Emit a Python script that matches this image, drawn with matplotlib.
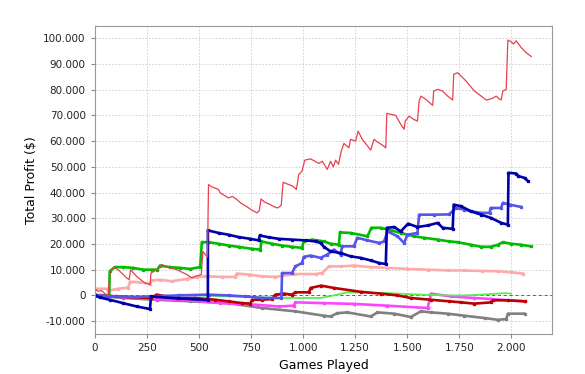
import matplotlib
matplotlib.use('Agg')
import matplotlib.pyplot as plt
from matplotlib.ticker import FuncFormatter, MultipleLocator

# games played (x) / total profit in $ (y)
red_x = [0, 16, 32, 48, 64, 72, 88, 96, 120, 153, 165, 172, 201, 241, 265, 270, 297, 313, 321, 361,
         394, 442, 466, 482, 500, 511, 519, 530, 541, 546, 560, 594, 602, 642, 660, 682, 700, 730, 755,
         779, 790, 798, 815, 843, 860, 878, 895, 904, 931, 950, 968, 979, 995, 1008, 1036, 1076, 1092,
         1116, 1132, 1145, 1156, 1170, 1183, 1196, 1220, 1228, 1252, 1264, 1284, 1325, 1340, 1360, 1380,
         1397, 1402, 1445, 1469, 1485, 1490, 1509, 1530, 1549, 1557, 1566, 1590, 1622, 1627, 1646, 1670,
         1694, 1718, 1723, 1742, 1782, 1822, 1855, 1879, 1905, 1927, 1940, 1951, 1959, 1975, 1983, 1999,
         2010, 2023, 2047, 2071, 2095]
red_y = [2600, 1600, 1900, 700, 0, 8700, 10700, 11000, 9400, 6800, 6100, 10000, 7400, 4800, 4200, 8700,
         10000, 11300, 12000, 10700, 10000, 8100, 6800, 7400, 7800, 8100, 17100, 15900, 15000, 43100,
         42300, 41200, 39900, 37900, 38500, 37300, 36000, 34500, 33100, 32100, 33000, 37500, 36300, 35300,
         34500, 34000, 35000, 44000, 43100, 42500, 41200, 47000, 48300, 52600, 53100, 51300, 52200, 49000,
         52200, 50000, 52600, 51000, 56100, 59100, 57400, 60700, 60000, 63900, 60700, 56500, 60700, 59500,
         58500, 57400, 70800, 70000, 66500, 64600, 67800, 69700, 68500, 67800, 75600, 77500, 76200, 73900,
         79500, 80100, 79500, 77500, 76000, 86000, 86600, 83400, 79500, 77500, 76000, 76500, 77500, 76500,
         76000, 79500, 80100, 99300, 98600, 97800, 99000, 96400, 94400, 92900]

navy_x = [0, 24, 72, 136, 201, 265, 270, 400, 543, 543, 594, 642, 690, 747, 787, 792, 835, 883, 947, 1012,
          1060, 1084, 1100, 1132, 1180, 1228, 1276, 1325, 1365, 1397, 1402, 1437, 1469, 1504, 1549, 1598,
          1646, 1670, 1718, 1723, 1758, 1806, 1855, 1903, 1951, 1983, 1986, 2023, 2034, 2063, 2080]
navy_y = [0, -800, -1700, -3000, -4300, -5300, -400, -1200, -1800, 25300, 24300, 23600, 22700, 22000,
          21400, 23300, 22600, 22000, 21700, 21400, 21000, 20400, 18900, 17100, 16500, 15200, 14600, 13600,
          12600, 12200, 26300, 26600, 24900, 27900, 26600, 27200, 28200, 26300, 25900, 35300, 34700, 32700,
          31400, 30100, 28200, 27500, 47700, 47400, 46400, 45700, 44400]

blue_x = [0, 100, 200, 300, 400, 546, 642, 722, 803, 896, 899, 947, 963, 995, 1003, 1036, 1084, 1116,
          1148, 1180, 1188, 1244, 1260, 1309, 1365, 1389, 1405, 1453, 1485, 1501, 1549, 1557, 1630, 1700,
          1734, 1774, 1806, 1855, 1895, 1900, 1950, 1959, 1991, 2047]
blue_y = [0, -400, -600, -300, 0, 300, 0, -400, -1000, -1000, 8700, 8700, 11300, 12600, 15000, 15500,
          14600, 15900, 17800, 15900, 19100, 19100, 22400, 21400, 20400, 21000, 24900, 23000, 20400, 23600,
          24300, 31400, 31400, 31500, 34000, 33400, 32700, 32100, 32100, 34000, 34000, 36000, 35300, 34400]

green_x = [0, 40, 69, 72, 96, 136, 185, 233, 273, 300, 313, 361, 409, 458, 506, 514, 546, 594, 642, 690,
           755, 795, 800, 851, 899, 947, 995, 1003, 1044, 1100, 1132, 1172, 1177, 1228, 1309, 1328, 1373,
           1421, 1469, 1533, 1581, 1646, 1702, 1742, 1806, 1855, 1900, 1935, 1959, 1999, 2047, 2092]
green_y = [0, -300, 0, 9400, 11000, 11000, 10700, 10000, 10000, 10000, 11600, 11000, 10700, 10300, 11000,
           20700, 20700, 20100, 19400, 18900, 18100, 17800, 21000, 20100, 19400, 18900, 18500, 21000, 21700,
           21000, 20100, 19700, 24500, 24300, 23000, 26300, 26300, 25300, 24300, 23000, 22400, 21700, 21000,
           20700, 19700, 18900, 18900, 19700, 20700, 20100, 19700, 19100]

pink_x = [0, 60, 70, 112, 160, 169, 217, 265, 273, 313, 369, 442, 490, 522, 546, 610, 674, 682, 739, 803,
          867, 963, 1060, 1092, 1124, 1180, 1244, 1325, 1405, 1501, 1598, 1694, 1774, 1860, 1935, 1999, 2055]
pink_y = [2600, 2600, 1900, 2600, 3000, 5300, 5100, 4600, 5800, 6100, 5500, 6400, 7200, 7400, 7400, 7200,
          7200, 8500, 8100, 7400, 7200, 8300, 8300, 8700, 11300, 11300, 11600, 11000, 10700, 10300, 10000,
          9700, 9700, 9500, 9400, 9000, 8500]

darkred_x = [0, 100, 200, 270, 297, 345, 409, 482, 578, 642, 706, 747, 755, 803, 851, 867, 907, 947, 963,
             1028, 1036, 1087, 1148, 1276, 1373, 1453, 1517, 1614, 1702, 1758, 1822, 1903, 1911, 1983, 2063]
darkred_y = [0, -400, -800, -1000, 300, -400, -1000, -1000, -1700, -2300, -3000, -3200, -1700, -1700,
             -1400, 300, 700, 300, 1200, 1200, 2900, 3800, 2900, 1400, 700, 0, -1000, -1700, -2300, -2700,
             -3200, -2700, -1900, -1900, -2300]

lime_x = [409, 500, 600, 730, 891, 1052, 1084, 1148, 1212, 1405, 1565, 1702, 1774, 1855, 1935, 1967, 1999]
lime_y = [300, 0, -300, -600, -1000, -1000, -1000, 0, 1200, 900, 300, 0, 0, 300, 700, 900, 700]

magenta_x = [0, 136, 297, 458, 602, 771, 883, 955, 963, 1100, 1244, 1405, 1598, 1614, 1710, 1822, 1903,
             1983, 2063]
magenta_y = [300, -600, -1400, -1900, -3000, -3600, -4300, -4000, -2700, -3000, -3300, -4000, -4900, 700,
             -400, -1000, -1400, -1900, -2300]

gray_x = [0, 136, 297, 458, 642, 803, 963, 1100, 1132, 1164, 1212, 1325, 1357, 1437, 1517, 1565, 1614,
          1694, 1774, 1871, 1935, 1975, 1983, 2063]
gray_y = [0, -1000, -1700, -2300, -3000, -4900, -6200, -7900, -8200, -6900, -6600, -8200, -6600, -7100,
          -8400, -6200, -6600, -7100, -7900, -8800, -9500, -9200, -7100, -7100]

fig, ax = plt.subplots(figsize=(5.85, 3.74), dpi=100)
fig.subplots_adjust(left=0.162, right=0.944, bottom=0.107, top=0.930)

ax.grid(True, color='#cccccc', linestyle=(0, (2, 2)), linewidth=0.6)
ax.set_axisbelow(True)
ax.axhline(0, color='#5555aa', linewidth=0.7, linestyle=(0, (3, 3)), zorder=1)

thick = dict(linewidth=1.9, marker='s', markersize=1.4)
ax.plot(gray_x, gray_y, color='#808080', **thick)
ax.plot(magenta_x, magenta_y, color='#ff44ff', **thick)
ax.plot(lime_x, lime_y, color='#55ee55', linewidth=1.3)
ax.plot(darkred_x, darkred_y, color='#bb0000', **thick)
ax.plot(pink_x, pink_y, color='#ffaaaa', **thick)
ax.plot(green_x, green_y, color='#00bb00', **thick)
ax.plot(blue_x, blue_y, color='#5555ee', **thick)
ax.plot(navy_x, navy_y, color='#0000aa', **thick)
ax.plot(red_x, red_y, color='#e8404c', linewidth=0.9)

ax.set_xlim(0, 2196)
ax.set_ylim(-15000, 104700)
ax.xaxis.set_major_locator(MultipleLocator(250))
ax.yaxis.set_major_locator(MultipleLocator(10000))
fmt = FuncFormatter(lambda v, p: f'{v:,.0f}'.replace(',', '.'))
ax.xaxis.set_major_formatter(fmt)
ax.yaxis.set_major_formatter(fmt)
ax.tick_params(labelsize=7.5, colors='#222222', length=3, color='#888888')
for s in ax.spines.values():
    s.set_color('#999999')

ax.set_xlabel('Games Played', fontsize=9)
ax.set_ylabel('Total Profit ($)', fontsize=9)

fig.savefig('out.png')
